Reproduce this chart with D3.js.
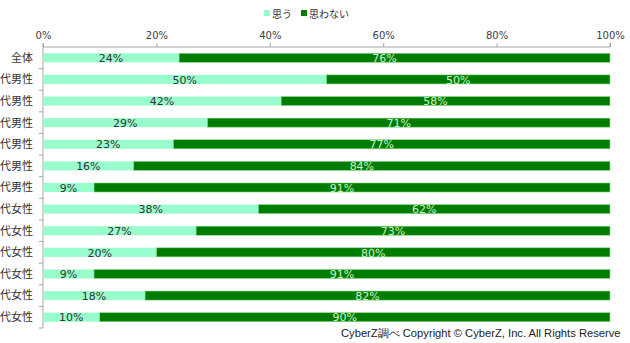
<!DOCTYPE html>
<html>
<head>
<meta charset="utf-8">
<script src="https://cdn.jsdelivr.net/npm/d3@7"></script>
<style>
body{margin:0;background:#fff;}
svg{display:block;}
</style>
</head>
<body>
<div id="chart"></div>
<script>
var categories = ["全体","代男性","代男性","代男性","代男性","代男性","代男性","代女性","代女性","代女性","代女性","代女性","代女性"];
var omou = [24,50,42,29,23,16,9,38,27,20,9,18,10];
var omowanai = [76,50,58,71,77,84,91,62,73,80,91,82,90];
var seriesNames = ["思う","思わない"];
var tickValues = [0,20,40,60,80,100];

var w = 630, h = 343;
var colors = ["#99fccc","#007c00"];

var svg = d3.select("#chart").append("svg")
    .attr("width", w).attr("height", h);

var xScale = d3.scaleLinear().domain([0,100]).range([43,610]);
var yScale = d3.scaleBand().domain(d3.range(categories.length)).range([47,328]).paddingInner(0.58).paddingOuter(0.29);

// top axis
var xAxis = d3.axisTop(xScale).tickValues(tickValues).tickSize(4).tickFormat(function(d){return d+"%";});
var gx = svg.append("g").attr("transform","translate(0,47)").call(xAxis);
gx.select(".domain").attr("stroke","#a6a6a6").attr("d","M43,-4V0H610V-4");
gx.selectAll(".tick line").attr("stroke","#a6a6a6");
gx.selectAll(".tick text").attr("fill","#404040").attr("font-family","DejaVu Sans, Verdana, sans-serif").attr("font-size","10px").attr("dy","-1");

// left axis
var step = yScale.step();
var boundaries = d3.range(categories.length+1).map(function(i){ return 47 + i*step; });
svg.append("line").attr("x1",43).attr("x2",43).attr("y1",47).attr("y2",boundaries[boundaries.length-1])
    .attr("stroke","#a6a6a6");
svg.selectAll(".ytick").data(boundaries.slice(1)).enter().append("line")
    .attr("x1",39).attr("x2",43).attr("y1",function(d){return d;}).attr("y2",function(d){return d;})
    .attr("stroke","#a6a6a6");

svg.selectAll(".cat").data(categories).enter().append("text")
    .attr("x",33).attr("y",function(d,i){return yScale(i)+yScale.bandwidth()/2;})
    .attr("dy","0.35em").attr("text-anchor","end")
    .attr("font-family","Noto Sans CJK JP, sans-serif").attr("font-size","11px").attr("fill","#333")
    .text(function(d){return d;});

// bars
var rows = categories.map(function(c,i){ return {i:i, a:omou[i], b:omowanai[i]}; });
svg.selectAll(".barA").data(rows).enter().append("rect")
    .attr("x",xScale(0)).attr("y",function(d){return yScale(d.i);})
    .attr("width",function(d){return xScale(d.a)-xScale(0);})
    .attr("height",yScale.bandwidth()).attr("fill",colors[0]);
svg.selectAll(".barB").data(rows).enter().append("rect")
    .attr("x",function(d){return xScale(d.a);}).attr("y",function(d){return yScale(d.i);})
    .attr("width",function(d){return xScale(d.a+d.b)-xScale(d.a);})
    .attr("height",yScale.bandwidth()).attr("fill",colors[1])
    .attr("stroke","#8fdc8f").attr("stroke-width",0.6);

svg.selectAll(".labA").data(rows).enter().append("text")
    .attr("x",function(d){return (xScale(0)+xScale(d.a))/2;})
    .attr("y",function(d){return yScale(d.i)+yScale.bandwidth()/2;})
    .attr("dy","0.38em").attr("text-anchor","middle")
    .attr("font-family","DejaVu Sans, Verdana, sans-serif").attr("font-size","11px").attr("fill","#333")
    .text(function(d){return d.a+"%";});
svg.selectAll(".labB").data(rows).enter().append("text")
    .attr("x",function(d){return (xScale(d.a)+xScale(100))/2 - 10;})
    .attr("y",function(d){return yScale(d.i)+yScale.bandwidth()/2;})
    .attr("dy","0.38em").attr("text-anchor","middle")
    .attr("font-family","DejaVu Sans, Verdana, sans-serif").attr("font-size","11px").attr("fill","#c8f5c8")
    .text(function(d){return d.b+"%";});

// legend
var legend = svg.append("g").attr("transform","translate(264,14)");
var lx = [0,37];
seriesNames.forEach(function(name,i){
    legend.append("rect").attr("x",lx[i]).attr("y",-4).attr("width",6).attr("height",6).attr("fill",colors[i]);
    legend.append("text").attr("x",lx[i]+8).attr("y",0).attr("dy","0.35em")
        .attr("font-family","Noto Sans CJK JP, sans-serif").attr("font-size","10px").attr("fill","#333")
        .text(name);
});

// source note
svg.append("text").attr("x",341).attr("y",337)
    .attr("font-family","Liberation Sans, Arial, sans-serif").attr("font-size","11.2px").attr("fill","#222")
    .text("CyberZ調べ Copyright © CyberZ, Inc. All Rights Reserve");
</script>
</body>
</html>
